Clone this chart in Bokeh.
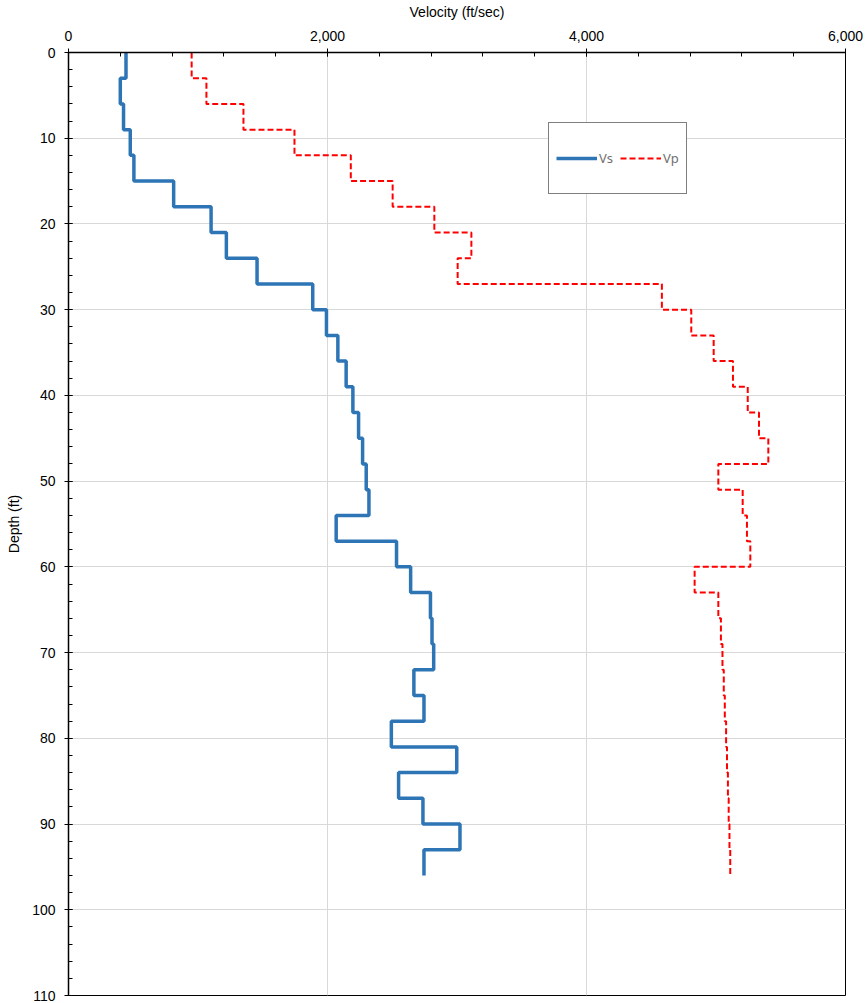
from bokeh.plotting import figure
from bokeh.models import Range1d, FixedTicker, NumeralTickFormatter, Legend, LegendItem
from bokeh.embed import file_html
from bokeh.resources import INLINE

# Layer boundaries (ft)
depth_top = [0, 3, 6, 9, 12, 15, 18, 21, 24, 27, 30, 33, 36, 39, 42, 45, 48, 51, 54, 57,
             60, 63, 66, 69, 72, 75, 78, 81, 84, 87, 90, 93]
depth_bot = [3, 6, 9, 12, 15, 18, 21, 24, 27, 30, 33, 36, 39, 42, 45, 48, 51, 54, 57, 60,
             63, 66, 69, 72, 75, 78, 81, 84, 87, 90, 93, 96]
# Shear-wave velocity (ft/sec)
vs = [444, 400, 425, 477, 505, 812, 1101, 1219, 1456, 1886, 1992, 2080, 2144, 2196, 2240, 2271,
      2299, 2320, 2067, 2533, 2642, 2795, 2807, 2820, 2667, 2745, 2493, 2998, 2549, 2737, 3023, 2745]
# Compression-wave velocity (ft/sec)
vp = [951, 1065, 1351, 1745, 2180, 2503, 2825, 3111, 3005, 4582, 4809, 4982, 5131, 5245, 5332, 5404,
      5018, 5206, 5239, 5265, 4835, 5018, 5038, 5050, 5060, 5068, 5078, 5085, 5092, 5098, 5104, 5110]

x_ticks = [0, 2000, 4000, 6000]
y_ticks = list(range(0, 111, 10))


def step_path(values):
    xs, ys = [], []
    for v, d0, d1 in zip(values, depth_top, depth_bot):
        xs += [v, v]
        ys += [d0, d1]
    return xs, ys


p = figure(width=864, height=1003, output_backend="svg", toolbar_location=None,
           x_range=Range1d(0, 6000), y_range=Range1d(110, 0), x_axis_location="above",
           min_border_left=68, min_border_right=19, min_border_top=52, min_border_bottom=8)

p.outline_line_color = "black"
p.outline_line_width = 1
p.background_fill_color = "white"
p.border_fill_color = "white"

vs_x, vs_y = step_path(vs)
vp_x, vp_y = step_path(vp)
r_vs = p.line(vs_x, vs_y, line_color="#2E75B6", line_width=3.5)
r_vp = p.line(vp_x, vp_y, line_color="#FF0000", line_width=2, line_dash="6 3")

xa = p.xaxis[0]
ya = p.yaxis[0]
xa.ticker = FixedTicker(ticks=x_ticks, minor_ticks=list(range(0, 6001, 400)))
ya.ticker = FixedTicker(ticks=y_ticks, minor_ticks=list(range(0, 111, 2)))
xa.formatter = NumeralTickFormatter(format="0,0")
xa.axis_label = "Velocity (ft/sec)"
ya.axis_label = "Depth (ft)"
for ax in (xa, ya):
    ax.axis_line_color = "black"
    ax.axis_line_width = 1.5
    ax.major_tick_line_color = "black"
    ax.minor_tick_line_color = "black"
    ax.major_tick_in = 4
    ax.major_tick_out = 4
    ax.minor_tick_in = 4
    ax.minor_tick_out = 0
    ax.major_label_text_font = "Liberation Sans"
    ax.major_label_text_font_size = "14px"
    ax.major_label_text_color = "black"
    ax.axis_label_text_font = "Liberation Sans"
    ax.axis_label_text_font_size = "14px"
    ax.axis_label_text_font_style = "normal"
    ax.axis_label_text_color = "black"
xa.major_label_standoff = 8
ya.major_label_standoff = 9
xa.axis_label_standoff = 8
ya.axis_label_standoff = 7

p.xgrid.ticker = FixedTicker(ticks=x_ticks)
p.ygrid.ticker = FixedTicker(ticks=y_ticks)
p.xgrid.grid_line_color = "#D9D9D9"
p.ygrid.grid_line_color = "#D9D9D9"
p.xgrid.grid_line_width = 1
p.ygrid.grid_line_width = 1

legend = Legend(items=[LegendItem(label="Vs", renderers=[r_vs]),
                       LegendItem(label="Vp", renderers=[r_vp])],
                orientation="horizontal", location=(480, 801))
legend.border_line_color = "black"
legend.border_line_width = 1
legend.background_fill_alpha = 1
legend.label_text_font = "Noto Sans"
legend.label_text_font_size = "13px"
legend.label_text_color = "#707070"
legend.glyph_width = 41
legend.glyph_height = 56
legend.label_height = 56
legend.label_width = 14
legend.label_standoff = 2
legend.spacing = 7
legend.padding = 7
legend.margin = 0
p.add_layout(legend)

open("out.html", "w").write(file_html(p, INLINE))
